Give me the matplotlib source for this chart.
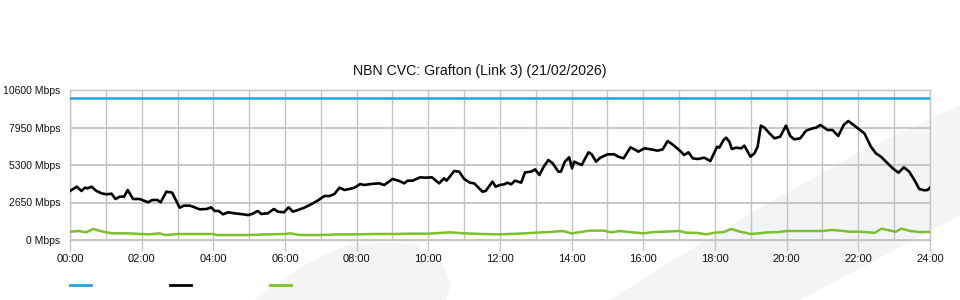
""" NBN CVC link utilisation chart """
import matplotlib
matplotlib.use("Agg")
from matplotlib import pyplot as plt
from matplotlib import patches, lines

plt.rcParams["font.family"] = ["Liberation Sans", "DejaVu Sans"]

# chart data (hours since midnight, Mbps)
title = "NBN CVC: Grafton (Link 3) (21/02/2026)"
capacity_hours = [0, 24]
capacity_mbps = [10000, 10000]

traffic_hours = [
    0.00, 0.19, 0.32, 0.42, 0.49, 0.60, 0.74, 0.88, 1.02, 1.16, 1.27, 1.39, 1.51, 1.61,
    1.76, 1.95, 2.18, 2.29, 2.44, 2.53, 2.69, 2.85, 3.06, 3.18, 3.34, 3.43, 3.62, 3.81,
    3.94, 4.04, 4.15, 4.27, 4.41, 4.59, 4.83, 4.97, 5.10, 5.24, 5.34, 5.52, 5.69, 5.80,
    5.97, 6.10, 6.22, 6.36, 6.54, 6.78, 6.91, 7.10, 7.24, 7.38, 7.52, 7.66, 7.80, 7.94,
    8.10, 8.21, 8.40, 8.63, 8.77, 9.00, 9.19, 9.33, 9.42, 9.56, 9.77, 9.93, 10.10, 10.30,
    10.44, 10.51, 10.72, 10.86, 11.00, 11.16, 11.28, 11.51, 11.60, 11.79, 11.88, 12.00,
    12.12, 12.21, 12.31, 12.42, 12.59, 12.70, 12.87, 12.98, 13.10, 13.22, 13.35, 13.47,
    13.63, 13.70, 13.81, 13.93, 14.01, 14.07, 14.17, 14.28, 14.47, 14.56, 14.68, 14.80,
    15.00, 15.19, 15.30, 15.45, 15.64, 15.75, 15.86, 16.03, 16.21, 16.40, 16.54, 16.68,
    16.87, 17.00, 17.14, 17.26, 17.38, 17.52, 17.70, 17.87, 18.06, 18.12, 18.24, 18.31,
    18.40, 18.47, 18.59, 18.73, 18.82, 18.99, 19.10, 19.19, 19.28, 19.38, 19.52, 19.66,
    19.82, 19.98, 20.10, 20.21, 20.38, 20.54, 20.73, 20.82, 20.94, 21.05, 21.14, 21.28,
    21.44, 21.59, 21.72, 21.87, 22.01, 22.17, 22.35, 22.49, 22.63, 22.82, 22.96, 23.12,
    23.27, 23.42, 23.58, 23.70, 23.84, 23.93, 24.00,
]
traffic_mbps = [
    3463, 3769, 3463, 3698, 3651, 3769, 3463, 3298, 3227, 3274, 2897, 3062, 3062, 3533,
    2897, 2897, 2662, 2827, 2827, 2662, 3416, 3345, 2285, 2427, 2427, 2356, 2167, 2191,
    2309, 2050, 2050, 1815, 1956, 1886, 1815, 1760, 1860, 2050, 1838, 1886, 2191, 2003,
    1956, 2309, 2003, 2120, 2285, 2591, 2780, 3110, 3110, 3251, 3698, 3533, 3604, 3698,
    3957, 3887, 3957, 4004, 3887, 4310, 4169, 4004, 4192, 4192, 4428, 4404, 4428, 4004,
    4357, 4192, 4875, 4828, 4310, 4051, 4004, 3416, 3463, 4122, 3769, 3887,
    3934, 4051, 3934, 4192, 4051, 4781, 4828, 4993, 4593, 5182, 5653, 5417,
    4828, 4828, 5535, 5841, 5064, 5535, 5417, 5300, 6195, 6053, 5535, 5818,
    6053, 6053, 5888, 5771, 6548, 6407, 6242, 6477, 6407, 6313, 6407, 6996,
    6642, 6360, 6006, 6195, 5771, 5724, 5818, 5582, 6595, 6525, 7067, 7232,
    6949, 6430, 6525, 6477, 6666, 5888, 6124, 6595, 8079, 7938, 7538, 7185,
    7303, 8079, 7350, 7114, 7185, 7727, 7892, 7938, 8126, 7938, 7773, 7773,
    7350, 8126, 8409, 8126, 7844, 7538, 6595, 6124, 5888, 5417, 5064, 4757,
    5135, 4828, 4169, 3604, 3510, 3533, 3698,
]

other_hours = [
    0.00, 0.25, 0.45, 0.65, 0.85, 1.00, 1.20, 1.60, 2.00, 2.20, 2.50, 2.65, 3.00, 3.50,
    4.00, 4.10, 5.00, 5.50, 6.00, 6.15, 6.40, 7.00, 7.50, 8.00, 8.50, 9.00, 9.50, 10.00,
    10.60, 11.00, 11.50, 12.00, 12.50, 13.00, 13.40, 13.75, 14.00, 14.50, 14.90, 15.10,
    15.35, 15.70, 16.00, 16.30, 16.60, 17.00, 17.20, 17.50, 17.75, 18.00, 18.25, 18.45,
    18.70, 19.00, 19.20, 19.50, 19.80, 20.00, 20.50, 21.00, 21.25, 21.50, 21.75, 22.00,
    22.30, 22.45, 22.65, 22.90, 23.05, 23.20, 23.45, 23.70, 24.00,
]
other_mbps = [
    589, 636, 542, 777, 636, 542, 471, 471, 424, 400, 471, 353, 424, 424,
    424, 353, 353, 400, 424, 471, 353, 353, 400, 400, 424, 424, 447, 447,
    542, 471, 424, 400, 447, 518, 566, 636, 471, 660, 660, 542,
    636, 542, 471, 566, 589, 636, 518, 500, 400, 518, 566, 777,
    589, 424, 471, 542, 566, 636, 636, 636, 707, 660, 589, 589,
    542, 500, 801, 660, 589, 801, 636, 566, 566,
]

y_ticks = [0, 2650, 5300, 7950, 10600]
x_ticks = list(range(0, 25, 2))
x_minor = list(range(1, 24, 2))

# colours
_blue = "#1ea5e0"
_black = "#000000"
_green = "#7dc02c"
_grid = "#c4c4c4"
_mark = "#f3f4f6"

W, H = 960, 300
fig = plt.figure(figsize=(W / 100, H / 100), dpi=100)

# light background swoosh shapes (pixel coords -> figure coords)
def _px(pts):
    return [(x / W, 1 - y / H) for x, y in pts]

_shape_left = [(253, 300), (272, 287), (300, 268), (328, 253), (350, 245), (385, 243),
               (417, 244), (440, 258), (451, 284), (446, 300)]
_shape_right = [(610, 300), (670, 262), (760, 208), (860, 152), (960, 105),
                (960, 215), (800, 300)]
for _pts in (_shape_left, _shape_right):
    fig.add_artist(patches.Polygon(_px(_pts), closed=True, facecolor=_mark,
                                   edgecolor="none", zorder=0))

ax = fig.add_axes([70 / W, 60 / H, 860 / W, 150 / H])
ax.set_facecolor("none")

ax.plot(capacity_hours, capacity_mbps, color=_blue, linewidth=1.8, zorder=3)
ax.plot(other_hours, other_mbps, color=_green, linewidth=1.8, zorder=3)
ax.plot(traffic_hours, traffic_mbps, color=_black, linewidth=1.9, zorder=4)

ax.set_xlim(0, 24)
ax.set_ylim(0, 10600)

ax.set_yticks(y_ticks)
ax.set_yticklabels([f"{v} Mbps" for v in y_ticks])
ax.set_xticks(x_ticks)
ax.set_xticklabels([f"{h:02d}:00" for h in x_ticks])
ax.set_xticks(x_minor, minor=True)

ax.grid(True, axis="y", color=_grid, linewidth=1.3, zorder=1)
ax.grid(True, axis="x", which="both", color=_grid, linewidth=1.0, zorder=1)
ax.set_axisbelow(True)

for _s in ax.spines.values():
    _s.set_color(_grid)
    _s.set_linewidth(1.0)

ax.tick_params(axis="y", length=0, pad=7, labelsize=7.5, labelcolor="#111111")
ax.tick_params(axis="x", which="major", length=8, width=1.0, color=_grid,
               pad=2, labelsize=8, labelcolor="#111111")
ax.tick_params(axis="x", which="minor", length=0)
for _lab in ax.get_yticklabels():
    _lab.set_y(_lab.get_position()[1])

fig.text(0.5, 1 - 71 / H, title, ha="center", va="center", fontsize=10.2, color="#111111")

# legend swatches (no labels shown)
for _x0, _c in ((70, _blue), (170, _black), (270, _green)):
    fig.add_artist(lines.Line2D([_x0 / W, (_x0 + 21) / W], [1 - 285 / H, 1 - 285 / H],
                                color=_c, linewidth=2.0))

fig.savefig("out.png", dpi=100)
